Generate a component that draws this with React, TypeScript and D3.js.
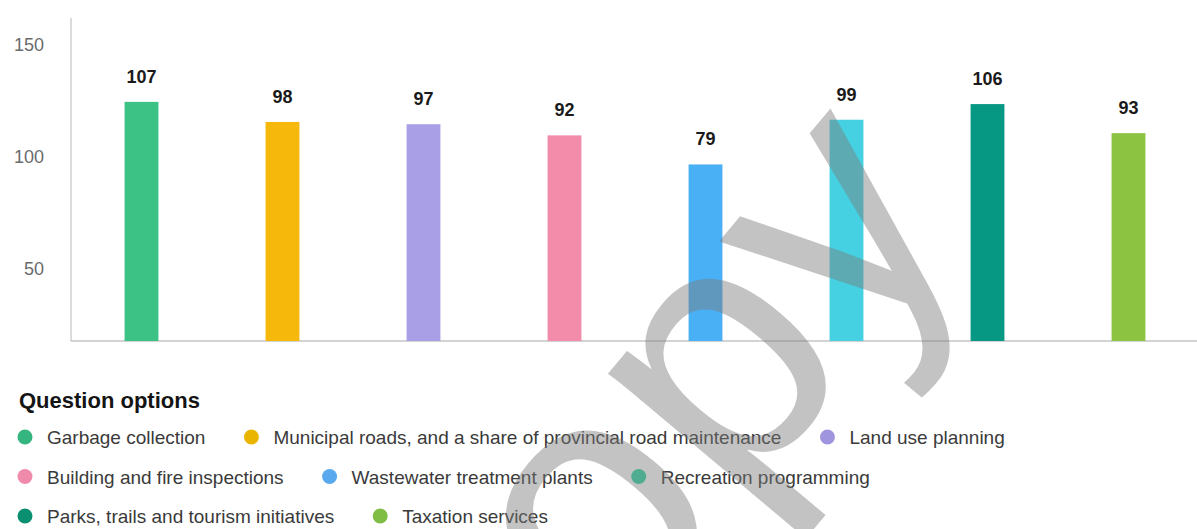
import React from "react";
import * as d3 from "d3";

const categories = [
  "Garbage collection",
  "Municipal roads, and a share of provincial road maintenance",
  "Land use planning",
  "Building and fire inspections",
  "Wastewater treatment plants",
  "Recreation programming",
  "Parks, trails and tourism initiatives",
  "Taxation services",
];
const values = [107, 98, 97, 92, 79, 99, 106, 93];
const barColors = ["#3dc285", "#f6b80a", "#a89fe6", "#f38bab", "#4ab0f5", "#45d1e1", "#079883", "#8cc441"];
const markerColors = ["#35b57f", "#e9b500", "#9f95df", "#f08aab", "#59a9ee", "#2fd6a2", "#0a8f70", "#7fbd45"];
const axisTicks = [50, 100, 150];
const legendTitle = "Question options";
const watermark = "copy";

const W = 1197;
const H = 529;
const FONT = "'Liberation Sans', Arial, Helvetica, sans-serif";

function measure(text: string, font: string): number {
  const c = document.createElement("canvas");
  const ctx = c.getContext("2d")!;
  ctx.font = font;
  return ctx.measureText(text).width;
}

export default function App() {
  const left = 71;
  const base = 341;
  const x = d3.scaleBand<string>().domain(categories).range([left, 1199]).paddingInner(0.76).paddingOuter(0.38);
  const yBar = d3.scaleLinear().domain([0, 150]).range([base, base - 150 * 2.235]);
  const yAxis = d3.scaleLinear().domain([0, 150]).range([380.5, 44.5]);

  const legendFontSize = 19;
  const legendFont = `${legendFontSize}px ${FONT}`;
  const rows: { cx: number; tx: number; row: number; i: number }[] = [];
  let cx = 25;
  let row = 0;
  categories.forEach((c, i) => {
    const tw = measure(c, legendFont);
    if (cx + 22 + tw > W - 5) {
      row += 1;
      cx = 25;
    }
    rows.push({ cx, tx: cx + 22, row, i });
    cx = cx + 22 + tw + 46;
  });
  const rowY = (r: number) => 437 + r * 39.5;

  return (
    <svg width={W} height={H} style={{ position: "absolute", left: 0, top: 0, background: "#fff" }} fontFamily={FONT}>
      <rect x={0} y={0} width={W} height={H} fill="#fff" />
      <line x1={left} x2={left} y1={18} y2={base} stroke="#cfcfcf" strokeWidth={1.5} />
      <line x1={left} x2={W} y1={base} y2={base} stroke="#c4c4c4" strokeWidth={1.5} />
      {axisTicks.map((t) => (
        <text key={t} x={44} y={yAxis(t)} dy="0.35em" textAnchor="end" fontSize={18} fill="#6b6b6b">
          {t}
        </text>
      ))}
      {categories.map((c, i) => (
        <g key={c}>
          <rect x={x(c)} y={yBar(values[i])} width={x.bandwidth()} height={base - yBar(values[i])} fill={barColors[i]} />
          <text
            x={(x(c) as number) + x.bandwidth() / 2}
            y={yBar(values[i]) - 19}
            textAnchor="middle"
            fontSize={18}
            fontWeight="bold"
            fill="#1a1a1a"
          >
            {values[i]}
          </text>
        </g>
      ))}
      <text x={19} y={408} fontSize={22} fontWeight="bold" fill="#141414">
        {legendTitle}
      </text>
      {rows.map((r) => (
        <g key={r.i}>
          <circle cx={r.cx} cy={rowY(r.row)} r={7.5} fill={markerColors[r.i]} />
          <text x={r.tx} y={rowY(r.row) + 7} fontSize={legendFontSize} fill="#3a3a3a">
            {categories[r.i]}
          </text>
        </g>
      ))}
      <text
        x={0}
        y={0}
        transform="translate(735,510) rotate(-50)"
        textAnchor="middle"
        fontSize={350}
        fill="#7a7a7a"
        fillOpacity={0.45}
      >
        {watermark}
      </text>
    </svg>
  );
}
